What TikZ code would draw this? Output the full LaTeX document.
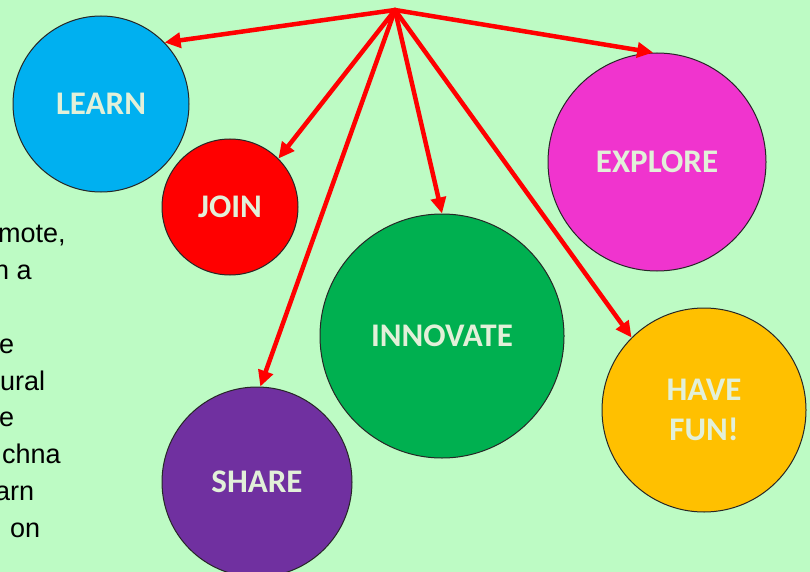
\documentclass[tikz,border=0pt]{standalone}
\usepackage{fontspec}
\setmainfont{Liberation Sans}
\newfontfamily\bubblefont{Carlito}
\usetikzlibrary{arrows.meta, positioning, calc}

\definecolor{bggreen}{RGB}{189,251,196}
\definecolor{learnblue}{RGB}{0,176,240}
\definecolor{joinred}{RGB}{255,0,0}
\definecolor{innogreen}{RGB}{0,176,80}
\definecolor{sharepurple}{RGB}{112,48,160}
\definecolor{exploremagenta}{RGB}{240,52,206}
\definecolor{funorange}{RGB}{255,192,0}
\definecolor{labelgreen}{RGB}{226,240,217}

\begin{document}
\begin{tikzpicture}[
  x=1pt, y=-1pt,
  bubble/.style = {circle, draw=black!85, line width=1pt, inner sep=0pt, align=center,
                   text=labelgreen, font=\bubblefont\bfseries\fontsize{33}{42}\selectfont},
  arrow/.style = {joinred, line width=4.5pt, line cap=round, -{Triangle[length=16pt, width=15pt]}},
  frag/.style = {anchor=base west, inner sep=0pt, font=\fontsize{27}{32}\selectfont}
]

  \useasboundingbox (0,0) rectangle (810,572);
  \fill[bggreen] (0,0) rectangle (810,572);

  % Text cut off at the left edge
  \node[frag] (mote) at (-2,242) {mote,};
  \node[frag] (ina)  at (-6,279) {n a};
  \node[frag] (e1)   at (-1,353) {e};
  \node[frag] (ural) at (0,390) {ural};
  \node[frag] (e2)   at (-1,426) {e};
  \node[frag] (chna) at (2,463) {chna};
  \node[frag] (arn)  at (-5,500) {arn};
  \node[frag] (on)   at (10,537) {on};

  % Bubbles
  \node[bubble, fill=learnblue, minimum size=176pt] (learn) at (101,104) {LEARN};
  \node[bubble, fill=joinred, minimum size=136pt] (join) at (230,207) {JOIN};
  \node[bubble, fill=innogreen, minimum size=244pt] (innovate) at (442,336) {INNOVATE};
  \node[bubble, fill=sharepurple, minimum size=190pt] (share) at (257,482) {SHARE};
  \node[bubble, fill=exploremagenta, minimum size=218pt] (explore) at (657,162) {EXPLORE};
  \node[bubble, fill=funorange, minimum size=204pt] (fun) at (704,410) {HAVE\\[-2pt]FUN!};

  % Hub at the top
  \coordinate (hub) at (395,10);

  \draw[arrow] (hub) -- (learn.44);
  \draw[arrow] (hub) -- (join.45);
  \draw[arrow] (hub) -- (share.88);
  \draw[arrow] (hub) -- (innovate.90);
  \draw[arrow] (hub) -- (explore.92);
  \draw[arrow] (hub) -- (fun.135);

\end{tikzpicture}
\end{document}
